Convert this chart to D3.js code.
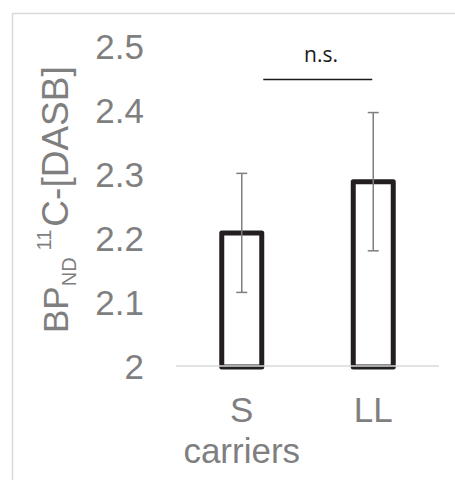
<!DOCTYPE html>
<html>
<head>
<meta charset="utf-8">
<script src="https://cdn.jsdelivr.net/npm/d3@7"></script>
<style>
  body { margin: 0; background: #fff; }
  svg { display: block; }
</style>
</head>
<body>
<svg id="chart" width="455" height="480"></svg>
<script>
// values
const groups = ["S", "LL"];
const means = [2.208, 2.288];
const errors = [0.093, 0.108];
const yTicks = [2, 2.1, 2.2, 2.3, 2.4, 2.5];
const sigLabel = "n.s.";

const svg = d3.select("#chart");
const grey = "#7f7f7f";

// outer frame (runs off the window on right/bottom)
svg.append("rect")
    .attr("x", 12.5).attr("y", 13.5)
    .attr("width", 600).attr("height", 600)
    .attr("fill", "none")
    .attr("stroke", "#d9d9d9")
    .attr("stroke-width", 1.5);

const x = d3.scalePoint()
    .domain(groups)
    .range([176, 439])
    .padding(0.5);

const y = d3.scaleLinear()
    .domain([2, 2.5])
    .range([366, 46]);

const barW = 40;

// tick labels
svg.append("g")
    .selectAll("text")
    .data(yTicks)
    .join("text")
    .attr("x", 144)
    .attr("y", d => y(d))
    .attr("dy", "0.36em")
    .attr("text-anchor", "end")
    .attr("fill", grey)
    .style("font-family", "'Liberation Sans', Arial, sans-serif")
    .style("font-size", "35px")
    .text(d => d === 2 ? "2" : d3.format(".1f")(d));

// y label
const yl = svg.append("text")
    .attr("transform", "translate(68,333) rotate(-90)")
    .attr("fill", grey)
    .style("font-family", "'Liberation Sans', Arial, sans-serif")
    .style("font-size", "35px");
yl.append("tspan").text("BP");
yl.append("tspan").attr("dy", 8).style("font-size", "20px").text("ND");
yl.append("tspan").attr("dy", -25).attr("dx", 7).style("font-size", "20px").text("11");
yl.append("tspan").attr("dy", 17).attr("dx", 3).style("font-size", "37px").text("C-[DASB]");

// bars
svg.append("g")
    .selectAll("rect")
    .data(groups)
    .join("rect")
    .attr("x", d => x(d) - barW / 2)
    .attr("y", (d, i) => y(means[i]))
    .attr("width", barW)
    .attr("height", (d, i) => y(2) + 1 - y(means[i]))
    .attr("fill", "#fff")
    .attr("stroke", "#231f20")
    .attr("stroke-width", 5)
    .attr("stroke-linejoin", "round");

// baseline
svg.append("line")
    .attr("x1", 176).attr("x2", 439)
    .attr("y1", y(2)).attr("y2", y(2))
    .attr("stroke", "#d9d9d9")
    .attr("stroke-width", 1.5);

// error bars
const eb = svg.append("g")
    .attr("stroke", "#7f7f7f")
    .attr("stroke-width", 1.5);
groups.forEach((g, i) => {
    const cx = x(g);
    const lo = y(means[i] - errors[i]);
    const hi = y(means[i] + errors[i]);
    eb.append("line").attr("x1", cx).attr("x2", cx).attr("y1", lo).attr("y2", hi);
    eb.append("line").attr("x1", cx - 5.5).attr("x2", cx + 5.5).attr("y1", lo).attr("y2", lo);
    eb.append("line").attr("x1", cx - 5.5).attr("x2", cx + 5.5).attr("y1", hi).attr("y2", hi);
});

// significance bracket
svg.append("line")
    .attr("x1", x("S") + 21.5).attr("x2", x("LL") - 1)
    .attr("y1", 79.5).attr("y2", 79.5)
    .attr("stroke", "#1a1a1a")
    .attr("stroke-width", 1.3);
svg.append("text")
    .attr("x", 321).attr("y", 62)
    .attr("text-anchor", "middle")
    .attr("fill", "#1a1a1a")
    .style("font-family", "'Open Sans', 'Liberation Sans', sans-serif")
    .style("font-size", "21px")
    .text(sigLabel);

// category labels
svg.append("g")
    .selectAll("text")
    .data(groups)
    .join("text")
    .attr("x", d => x(d))
    .attr("y", 422)
    .attr("text-anchor", "middle")
    .attr("fill", grey)
    .style("font-family", "'Liberation Sans', Arial, sans-serif")
    .style("font-size", "35px")
    .text(d => d);
svg.append("text")
    .attr("x", x("S"))
    .attr("y", 463)
    .attr("text-anchor", "middle")
    .attr("fill", grey)
    .style("font-family", "'Liberation Sans', Arial, sans-serif")
    .style("font-size", "35px")
    .text("carriers");
</script>
</body>
</html>
